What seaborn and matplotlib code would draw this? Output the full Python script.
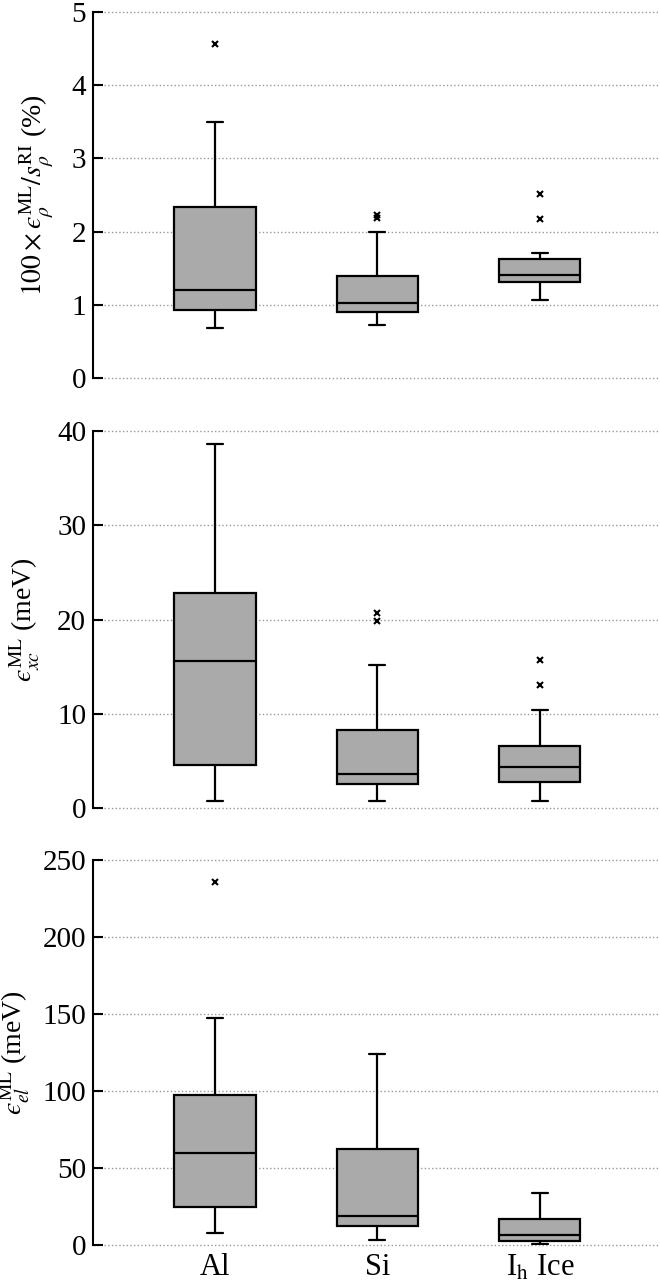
import pandas as pd
import matplotlib
matplotlib.use("Agg")
import matplotlib.pyplot as plt
import seaborn as sns

# categories
materials = ["Al", "Si", r"I$_\mathrm{h}$ Ice"]

# per-sample values (lower whisker, quartiles, median, upper whisker, outliers)
# panel 1: 100 x eps_rho / s_rho (%)
rho_al = [0.69, 0.93, 0.93, 1.20, 1.20, 2.34, 2.34, 3.50, 4.57]
rho_si = [0.72, 0.90, 0.90, 0.90, 1.02, 1.02, 1.02, 1.40, 1.40, 1.40, 2.00, 2.19, 2.23]
rho_ice = [1.07, 1.31, 1.31, 1.31, 1.41, 1.41, 1.41, 1.62, 1.62, 1.62, 1.71, 2.17, 2.51]

# panel 2: eps_xc (meV)
xc_al = [0.8, 4.6, 15.6, 22.8, 38.6]
xc_si = [0.7, 2.5, 2.5, 2.5, 3.6, 3.6, 3.6, 8.3, 8.3, 8.3, 15.2, 19.8, 20.7]
xc_ice = [0.8, 2.8, 2.8, 2.8, 4.4, 4.4, 4.4, 6.6, 6.6, 6.6, 10.4, 13.1, 15.7]

# panel 3: eps_el (meV)
el_al = [7.8, 24.4, 24.4, 60.0, 60.0, 97.5, 97.5, 147.3, 235.8]
el_si = [3.0, 12.3, 19.0, 62.1, 123.8]
el_ice = [0.9, 2.6, 6.5, 16.6, 33.9]

ylabels = [
    "$100\\times\u03f5_\\rho^{\\mathrm{ML}}/s_\\rho^{\\mathrm{RI}}$ (%)",
    "$\u03f5_{xc}^{\\mathrm{ML}}$ (meV)",
    "$\u03f5_{el}^{\\mathrm{ML}}$ (meV)",
]
ylims = [(0, 5), (0, 40), (0, 250)]
yticks = [[0, 1, 2, 3, 4, 5], [0, 10, 20, 30, 40], [0, 50, 100, 150, 200, 250]]

panels = [
    [rho_al, rho_si, rho_ice],
    [xc_al, xc_si, xc_ice],
    [el_al, el_si, el_ice],
]

sns.set_style("white")
plt.rcParams["font.family"] = ["Liberation Serif", "DejaVu Serif"]
plt.rcParams["mathtext.fontset"] = "stix"
plt.rcParams["text.color"] = "black"
plt.rcParams["axes.labelcolor"] = "black"
plt.rcParams["xtick.color"] = "black"
plt.rcParams["ytick.color"] = "black"

fig = plt.figure(figsize=(6.6, 12.82), dpi=100)
# axes rectangles [left, bottom, width, height] in figure fraction
rects = [
    [0.141, 0.7051, 0.859, 0.2855],
    [0.141, 0.3697, 0.859, 0.2941],
    [0.141, 0.0289, 0.859, 0.3003],
]
label_x = [-0.067, -0.090, -0.108]

for i, (groups, rect) in enumerate(zip(panels, rects)):
    ax = fig.add_axes(rect)
    df = pd.DataFrame({
        "material": [m for m, g in zip(materials, groups) for _ in g],
        "value": [v for g in groups for v in g],
    })
    sns.boxplot(
        data=df, x="material", y="value", ax=ax,
        order=materials, color="#aaaaaa", saturation=1,
        width=0.5, linecolor="black", linewidth=1.6,
        capwidths=0.1,
        flierprops=dict(marker="x", markersize=4, markeredgecolor="black",
                        markeredgewidth=1.5),
    )
    ax.set_xlim(-0.75, 2.74)
    ax.set_ylim(*ylims[i])
    ax.set_yticks(yticks[i])
    ax.yaxis.grid(True, linestyle=":", color="#999999", linewidth=1.0)
    for gl in ax.get_ygridlines():
        gl.set_clip_on(False)
    ax.set_axisbelow(True)
    for side in ["top", "right", "bottom"]:
        ax.spines[side].set_visible(False)
    ax.spines["left"].set_color("black")
    ax.spines["left"].set_linewidth(1.5)
    ax.tick_params(axis="y", direction="in", length=7, width=1.5,
                   labelsize=21, left=True, pad=5, colors="black")
    ax.tick_params(axis="x", length=0, labelsize=22, pad=6, colors="black")
    ax.set_ylabel(ylabels[i], fontsize=20, color="black")
    ax.yaxis.set_label_coords(label_x[i], 0.5)
    ax.set_xlabel("")
    if i < 2:
        ax.set_xticklabels([])

fig.savefig("out.png", dpi=100)
